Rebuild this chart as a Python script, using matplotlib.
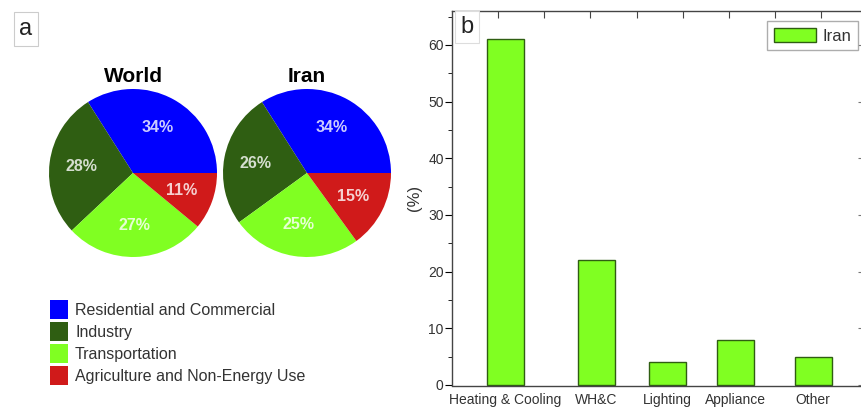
import matplotlib
matplotlib.use("Agg")
import matplotlib.pyplot as plt
from matplotlib.ticker import MultipleLocator

plt.rcParams['font.family'] = ['Liberation Sans', 'DejaVu Sans']

# ---- data ----
sectors = ["Residential and Commercial", "Industry", "Transportation",
           "Agriculture and Non-Energy Use"]
world_share = [34, 28, 27, 11]
iran_share = [34, 26, 25, 15]
sector_colors = ["#0000FF", "#2F5E12", "#80FF22", "#D01A1A"]

end_uses = ["Heating & Cooling", "WH&C", "Lighting", "Appliance", "Other"]
iran_end_use = [61, 22, 4, 8, 5]
bar_positions = [0.15, 2.13, 3.67, 5.15, 6.83]

W, H = 861, 408
fig = plt.figure(figsize=(W / 100, H / 100), dpi=100)


def px_axes(x0, y0, x1, y1):
    return fig.add_axes([x0 / W, 1 - y1 / H, (x1 - x0) / W, (y1 - y0) / H])


# ---- pies ----
r = 84
pie_specs = [("World", world_share, 133), ("Iran", iran_share, 307)]
wedges_ref = None
for title, vals, cx in pie_specs:
    cy = 173
    ax = px_axes(cx - r, cy - r, cx + r, cy + r)
    wedges, texts, autotexts = ax.pie(
        vals, colors=sector_colors, startangle=0, counterclock=True,
        autopct='%d%%', pctdistance=0.62,
        wedgeprops=dict(linewidth=0),
        textprops=dict(color='white', fontsize=11.5, fontweight='bold'))
    for t in autotexts:
        t.set_alpha(0.8)
    ax.set_xlim(-1, 1)
    ax.set_ylim(-1, 1)
    ax.set_aspect('equal')
    ax.set_title(title, fontsize=15, fontweight='bold', pad=5)
    if wedges_ref is None:
        wedges_ref = wedges

fig.legend(wedges_ref, sectors, loc='upper left',
           bbox_to_anchor=(50 / W, 1 - 300 / H), frameon=False,
           fontsize=11.5, handlelength=1.13, handleheight=1.45,
           handletextpad=0.44, labelspacing=0.19, borderpad=0,
           borderaxespad=0, labelcolor='#333333')

fig.text(26 / W, 1 - 29 / H, "a", fontsize=17, ha='center', va='center',
         color='#222222',
         bbox=dict(boxstyle='square,pad=0.25', facecolor='white',
                   edgecolor='#cccccc', linewidth=0.8))

# ---- bars ----
axb = px_axes(452, 11, 864, 385.5)
axb.bar(bar_positions, iran_end_use, width=0.8, color="#80FF22",
        edgecolor="#2F5E12", linewidth=1.0, label="Iran")
axb.set_xlim(-1, 7.93)
axb.set_ylim(-0.1, 66)
axb.set_xticks(bar_positions)
axb.set_xticklabels(end_uses, fontsize=10, color='#333333')
axb.tick_params(axis='x', bottom=False, top=False, pad=2)
axb.yaxis.set_major_locator(MultipleLocator(10))
axb.yaxis.set_minor_locator(MultipleLocator(5))
axb.tick_params(axis='y', which='major', direction='out', length=5,
                labelsize=10, labelcolor='#333333', pad=1)
axb.tick_params(axis='y', which='minor', direction='out', length=3)
axb.tick_params(axis='y', which='both', right=False)
axb.set_ylabel("(%)", fontsize=12, color='#333333', labelpad=4)
for s in axb.spines.values():
    s.set_color('#444444')
    s.set_linewidth(1.0)

# top ticks (inward, unlabeled)
axt = axb.secondary_xaxis('top')
axt.set_xticks(range(0, 8))
axt.tick_params(direction='in', length=5, labeltop=False, color='#444444')
axt.spines['top'].set_visible(False)

# right ticks inward
axr = axb.secondary_yaxis('right')
axr.set_yticks(range(0, 61, 10))
axr.tick_params(direction='in', length=4, labelright=False, color='#777777')
axr.spines['right'].set_visible(False)

axb.legend(loc='upper right', bbox_to_anchor=(858 / W, 1 - 21 / H),
           bbox_transform=fig.transFigure, fontsize=12, frameon=True,
           fancybox=False, edgecolor='#999999', handlelength=2.5,
           handleheight=0.95, borderpad=0.4, borderaxespad=0,
           handletextpad=0.4, labelcolor='#333333')

axb.text(467 / W, 1 - 27 / H, "b", transform=fig.transFigure, fontsize=17,
         ha='center', va='center', color='#222222',
         bbox=dict(boxstyle='square,pad=0.22', facecolor='white',
                   edgecolor='#dddddd', linewidth=0.8))

fig.savefig("out.png", dpi=100)
